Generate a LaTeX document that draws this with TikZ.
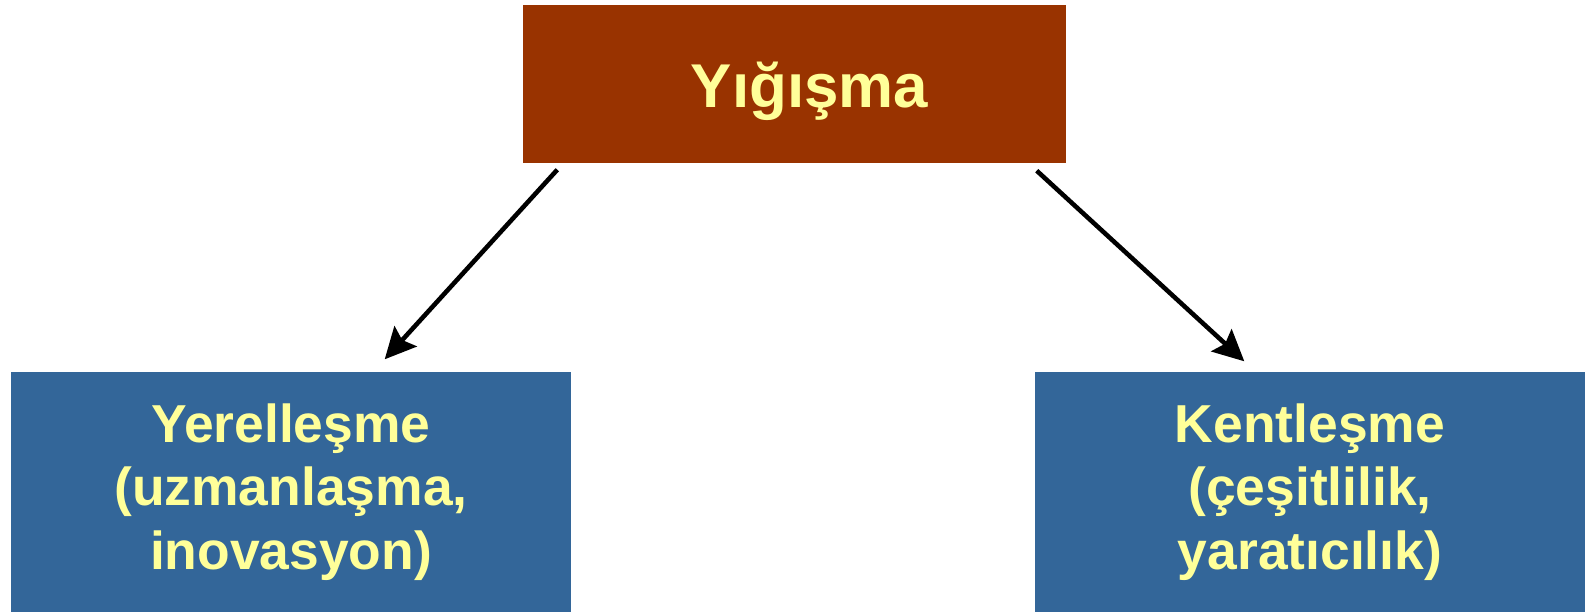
\documentclass[tikz,border=0pt]{standalone}
\usepackage{fontspec}
\setmainfont{Liberation Sans}
\usepackage{xcolor}
\usetikzlibrary{arrows.meta}

\definecolor{brick}{HTML}{993300}
\definecolor{slate}{HTML}{336699}
\definecolor{pale}{HTML}{FFFF99}

\begin{document}
\begin{tikzpicture}[
    >={Stealth[length=3.1mm, width=3mm, inset=0.5mm]},
    topbox/.style={rectangle, fill=brick, text=pale, inner sep=0pt, minimum width=5.43cm, minimum height=1.58cm, text height=0.6cm, text depth=0.12cm, font=\fontsize{17.6}{20}\selectfont\bfseries},
    subbox/.style={rectangle, fill=slate, text=pale, inner sep=0pt, minimum height=2.40cm, align=center, font=\fontsize{15.2}{18.1}\selectfont\bfseries},
    every edge/.append style={draw, ->, line width=1.3pt}
]
\useasboundingbox (0, 0) rectangle (15.85, 6.12);

% Nodes :
\node[topbox] (Y) at (7.945, 5.28) {\hspace*{0.30cm}Yığışma};
\node[subbox, minimum width=5.60cm] (L) at (2.91, 1.20) {Yerelleşme\\(uzmanlaşma,\\inovasyon)};
\node[subbox, minimum width=5.50cm] (K) at (13.10, 1.20) {Kentleşme\\(çeşitlilik,\\yaratıcılık)};

% Edges :
\draw ([xshift=0.35cm, yshift=-0.06cm]Y.south west) edge ([xshift=-1.87cm, yshift=0.12cm]L.north east);
\draw ([xshift=-0.30cm, yshift=-0.07cm]Y.south east) edge ([xshift=2.10cm, yshift=0.10cm]K.north west);

\end{tikzpicture}
\end{document}
